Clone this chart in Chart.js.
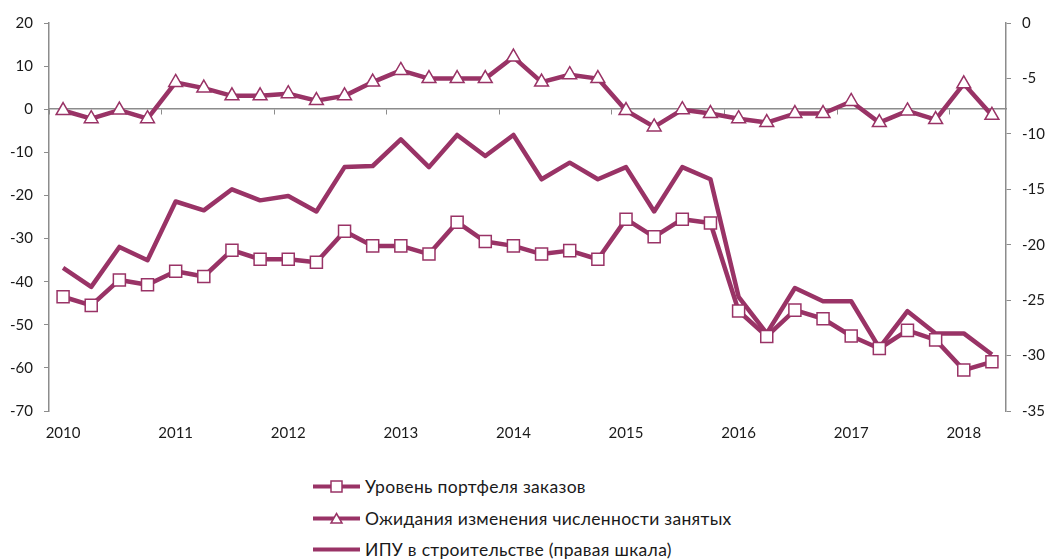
<!DOCTYPE html>
<html lang="ru">
<head>
<meta charset="utf-8">
<title>Строительство</title>
<script src="https://cdn.jsdelivr.net/npm/chart.js@4.4.1/dist/chart.umd.min.js"></script>
<style>
  body { margin: 0; background: #fff; font-family: Lato, "Open Sans", sans-serif; }
  #wrap { position: relative; width: 1047px; height: 560px; overflow: hidden; }
  #box { position: absolute; left: 0; top: 0; width: 1047px; height: 460px; }
  #legend { position: absolute; left: 313px; top: 471px; }
  .item { display: flex; align-items: center; height: 31.5px; font-size: 17.5px; color: #1a1a1a; letter-spacing: 0.3px; }
  .item svg { margin-right: 5px; flex: none; }
</style>
</head>
<body>
<div id="wrap">
  <div id="box"><canvas id="builtChart"></canvas></div>
  <div id="legend"></div>
</div>
<script>
// Datos trimestrales: 2010 I - 2018 II
const years = ['2010', '2011', '2012', '2013', '2014', '2015', '2016', '2017', '2018'];
const quarters = ['I', 'II', 'III', 'IV'];
const categories = years.flatMap(y => quarters.map(q => y + ' ' + q)).slice(0, 34);

const seriesNames = [
    'Уровень портфеля заказов',
    'Ожидания изменения численности занятых',
    'ИПУ в строительстве (правая шкала)',
];

// левая шкала
const orderBook = [
    -43.5, -45.5, -39.6, -40.7, -37.6, -38.8, -32.7, -34.8, -34.8, -35.5, -28.3, -31.7,
    -31.7, -33.6, -26.2, -30.7, -31.7, -33.6, -32.8, -34.8, -25.5, -29.6, -25.5, -26.4,
    -46.8, -52.7, -46.6, -48.6, -52.6, -55.5, -51.3, -53.5, -60.5, -58.6,
];
const employment = [
    -0.3, -2.2, -0.2, -2.2, 6.2, 4.9, 3.1, 3.1, 3.6, 2.0, 3.1, 6.3,
    9.0, 7.1, 7.1, 7.1, 12.1, 6.3, 8.0, 7.1, -0.3, -4.1, -0.1, -1.0,
    -2.2, -3.1, -1.0, -1.0, 1.8, -3.1, -0.4, -2.4, 5.9, -1.4,
];
// правая шкала
const ipu = [
    -22.1, -23.8, -20.2, -21.4, -16.1, -16.9, -15.0, -16.0, -15.6, -17.0, -13.0, -12.9,
    -10.5, -13.0, -10.1, -12.0, -10.1, -14.1, -12.6, -14.1, -13.0, -17.0, -13.0, -14.1,
    -24.7, -28.0, -23.9, -25.1, -25.1, -29.3, -26.0, -28.0, -28.0, -29.9,
];

const leftTicks = { min: -70, max: 20, step: 10 };
const rightTicks = { min: -35, max: 0, step: 5 };

const colors = {
    series: '#993366',
    axis: '#8c8c8c',
    text: '#1a1a1a',
};
const tickFont = { family: 'Lato, "Open Sans", sans-serif', size: 15 };

const initChart = (id) => {
    const ctx = document.getElementById(id).getContext('2d');
    return new Chart(ctx, {
        type: 'line',
        data: {
            labels: categories,
            datasets: [
                {
                    label: seriesNames[0],
                    data: orderBook,
                    yAxisID: 'y',
                    borderColor: colors.series,
                    borderWidth: 4.5,
                    borderJoinStyle: 'round',
                    pointStyle: 'rect',
                    pointRadius: 8.5,
                    pointBackgroundColor: '#fff',
                    pointBorderColor: colors.series,
                    pointBorderWidth: 1.5,
                },
                {
                    label: seriesNames[1],
                    data: employment,
                    yAxisID: 'y',
                    borderColor: colors.series,
                    borderWidth: 4.5,
                    borderJoinStyle: 'round',
                    pointStyle: 'triangle',
                    pointRadius: 8,
                    pointBackgroundColor: '#fff',
                    pointBorderColor: colors.series,
                    pointBorderWidth: 1.5,
                },
                {
                    label: seriesNames[2],
                    data: ipu,
                    yAxisID: 'y1',
                    borderColor: colors.series,
                    borderWidth: 4.5,
                    borderJoinStyle: 'round',
                    pointRadius: 0,
                },
            ],
        },
        options: {
            responsive: true,
            maintainAspectRatio: false,
            animation: false,
            layout: { padding: { top: 23, left: 0, right: 0, bottom: 0 } },
            plugins: {
                legend: { display: false },
                tooltip: { enabled: false },
            },
            scales: {
                x: {
                    type: 'category',
                    position: 'bottom',
                    offset: true,
                    grid: { display: false, drawTicks: false },
                    border: { display: false },
                    ticks: {
                        autoSkip: false,
                        maxRotation: 0,
                        minRotation: 0,
                        padding: 13,
                        color: colors.text,
                        font: tickFont,
                        callback: function (value, index) {
                            return index % 4 === 0 ? this.getLabelForValue(value).split(' ')[0] : '';
                        },
                    },
                    afterFit: s => { s.height = 49; },
                },
                // линия нуля с делениями по годам
                x2: {
                    type: 'category',
                    position: { y: 0 },
                    offset: true,
                    grid: {
                        offset: true,
                        drawOnChartArea: false,
                        drawTicks: true,
                        tickLength: 5,
                        color: c => (c.index % 4 === 0 ? colors.axis : 'rgba(0,0,0,0)'),
                    },
                    border: { display: true, color: colors.axis, width: 1.5 },
                    ticks: { display: false },
                },
                y: {
                    position: 'left',
                    min: leftTicks.min,
                    max: leftTicks.max,
                    ticks: { stepSize: leftTicks.step, color: colors.text, font: tickFont, padding: 11 },
                    grid: { drawOnChartArea: false, tickLength: 5, color: colors.axis },
                    border: { color: colors.axis, width: 1.5 },
                    afterFit: s => { s.width = 49; },
                },
                y1: {
                    position: 'right',
                    min: rightTicks.min,
                    max: rightTicks.max,
                    ticks: { stepSize: rightTicks.step, color: colors.text, font: tickFont, padding: 11 },
                    grid: { drawOnChartArea: false, tickLength: 5, color: colors.axis },
                    border: { color: colors.axis, width: 1.5 },
                    afterFit: s => { s.width = 41; },
                },
            },
        },
    });
};

const buildLegend = (chart) => {
    const box = document.getElementById('legend');
    chart.data.datasets.forEach(ds => {
        const c = ds.borderColor;
        let marker = '';
        if (ds.pointStyle === 'rect') {
            marker = `<rect x="18" y="2" width="11" height="11" fill="#fff" stroke="${c}" stroke-width="1.5"/>`;
        } else if (ds.pointStyle === 'triangle') {
            marker = `<polygon points="23.5,2.5 29,12 18,12" fill="#fff" stroke="${c}" stroke-width="1.5"/>`;
        }
        const row = document.createElement('div');
        row.className = 'item';
        row.innerHTML =
            `<svg width="47" height="15" viewBox="0 0 47 15">` +
            `<line x1="0" y1="7.5" x2="47" y2="7.5" stroke="${c}" stroke-width="4" stroke-linecap="round"/>` +
            marker + `</svg><span>${ds.label}</span>`;
        box.appendChild(row);
    });
};

const chart = initChart('builtChart');
buildLegend(chart);
</script>
</body>
</html>
